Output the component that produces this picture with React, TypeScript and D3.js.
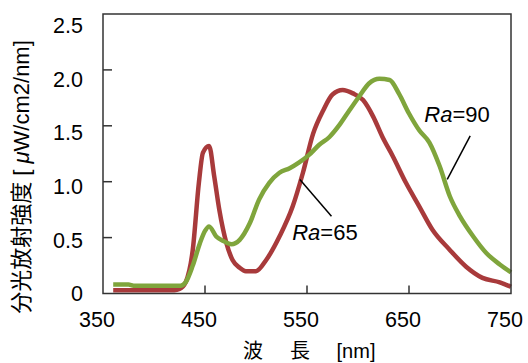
import React from "react";
import * as d3 from "d3";

// Ra=65 spectrum (red)
const ra65Wavelength = [360, 380, 400, 420, 425, 431, 438, 444, 448, 454, 459, 464, 471, 477, 484, 490, 500, 510, 523, 536, 546, 556, 566, 575, 585, 595, 605, 615, 624, 634, 647, 660, 673, 690, 706, 722, 739, 750];
const ra65Values = [0.03, 0.03, 0.03, 0.03, 0.04, 0.1, 0.39, 0.99, 1.26, 1.32, 1.05, 0.75, 0.45, 0.3, 0.23, 0.2, 0.2, 0.3, 0.51, 0.78, 1.08, 1.43, 1.64, 1.78, 1.82, 1.79, 1.73, 1.58, 1.4, 1.23, 0.99, 0.78, 0.57, 0.39, 0.24, 0.14, 0.1, 0.06];

// Ra=90 spectrum (green)
const ra90Wavelength = [360, 375, 380, 400, 420, 426, 431, 438, 445, 450, 454, 461, 468, 476, 484, 494, 503, 513, 523, 533, 542, 552, 562, 572, 582, 591, 601, 611, 621, 631, 640, 650, 660, 670, 680, 690, 700, 713, 726, 739, 750];
const ra90Values = [0.08, 0.08, 0.07, 0.07, 0.07, 0.07, 0.1, 0.25, 0.45, 0.56, 0.6, 0.51, 0.47, 0.44, 0.48, 0.63, 0.84, 0.99, 1.08, 1.12, 1.17, 1.24, 1.33, 1.4, 1.51, 1.63, 1.76, 1.88, 1.92, 1.91, 1.79, 1.61, 1.46, 1.35, 1.14, 0.87, 0.69, 0.51, 0.36, 0.26, 0.19];

const xTicks = [350, 450, 550, 650, 750];
const yTicks = [0, 0.5, 1.0, 1.5, 2.0, 2.5];
const yTickLabels = ["0", "0.5", "1.0", "1.5", "2.0", "2.5"];

// annotations in data units
const ann65 = { label: "65", text: [535.5, 0.48], from: [543, 1.02], to: [574, 0.69] };
const ann90 = { label: "90", text: [665, 1.53], from: [687.5, 1.02], to: [710, 1.41] };

const FONT = "'Liberation Sans', Arial, 'Noto Sans CJK JP', sans-serif";

export default function App() {
  const x = d3.scaleLinear().domain([350, 750]).range([103, 511]);
  const y = d3.scaleLinear().domain([0, 2.5]).range([293.5, 14]);
  const yLab = d3.scaleLinear().domain([0, 2.5]).range([293.5, 25.5]);

  const line = d3
    .line<[number, number]>()
    .x((d) => x(d[0]))
    .y((d) => y(d[1]))
    .curve(d3.curveMonotoneX);

  const red = ra65Wavelength.map((w, i) => [w, ra65Values[i]] as [number, number]);
  const green = ra90Wavelength.map((w, i) => [w, ra90Values[i]] as [number, number]);

  const x0 = x(350), x1 = x(750), yb = y(0), yt = y(2.5);

  const renderAnn = (a: typeof ann65) => (
    <g>
      <line x1={x(a.from[0])} y1={y(a.from[1])} x2={x(a.to[0])} y2={y(a.to[1])} stroke="#000" strokeWidth={1.5} />
      <text x={x(a.text[0])} y={y(a.text[1])} fontSize={22} fontFamily={FONT} fill="#000">
        <tspan fontStyle="italic">Ra</tspan>
        <tspan>={a.label}</tspan>
      </text>
    </g>
  );

  return (
    <svg width={528} height={363} style={{ position: "absolute", left: 0, top: 0, background: "#fff" }}>
      <rect x={0} y={0} width={528} height={363} fill="#fff" />
      <path d={line(red) || ""} fill="none" stroke="#a83a3b" strokeWidth={4.5} strokeLinejoin="round" />
      <path d={line(green) || ""} fill="none" stroke="#7fa53c" strokeWidth={4.5} strokeLinejoin="round" />
      <rect x={x0} y={yt} width={x1 - x0} height={yb - yt} fill="none" stroke="#333" strokeWidth={1.5} />
      {yTicks.slice(1, -1).map((t) => (
        <line key={"yt" + t} x1={x0} x2={x0 + 9} y1={y(t)} y2={y(t)} stroke="#333" strokeWidth={1.5} />
      ))}
      {xTicks.slice(1, -1).map((t) => (
        <line key={"xt" + t} x1={x(t)} x2={x(t)} y1={yb} y2={yb - 8} stroke="#333" strokeWidth={1.5} />
      ))}
      {yTicks.map((t, i) => (
        <text key={"yl" + t} x={83} y={yLab(t)} dy="0.36em" textAnchor="end" fontSize={21.5} fontFamily={FONT} fill="#000">
          {yTickLabels[i]}
        </text>
      ))}
      {xTicks.map((t) => (
        <text key={"xl" + t} x={x(t) - 6} y={327} textAnchor="middle" fontSize={21.5} fontFamily={FONT} fill="#000">
          {t}
        </text>
      ))}
      <text x={0} y={0} transform="translate(29,177) rotate(-90)" textAnchor="middle" fontSize={22} fontFamily={FONT} fill="#000">
        分光放射強度 [ <tspan fontStyle="italic">μ</tspan>W/cm2/nm]
      </text>
      <g fontSize={20} fontFamily={FONT} fill="#000" textAnchor="middle">
        <text x={253} y={358}>波</text>
        <text x={300} y={358}>長</text>
        <text x={356} y={358}>[nm]</text>
      </g>
      {renderAnn(ann65)}
      {renderAnn(ann90)}
    </svg>
  );
}
